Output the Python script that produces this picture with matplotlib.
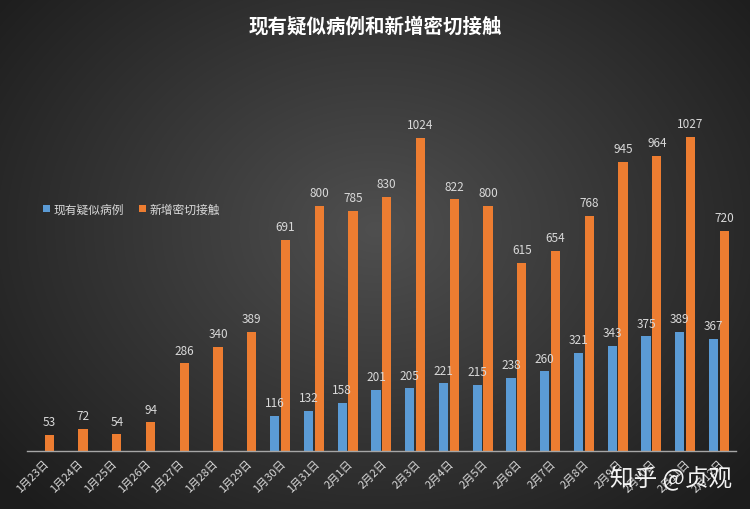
import numpy as np
import matplotlib
matplotlib.use('Agg')
import matplotlib.pyplot as plt

plt.rcParams['font.family'] = ['Noto Sans CJK SC', 'DejaVu Sans']

# ------------------------- 数据 -------------------------
dates = ['1月23日', '1月24日', '1月25日', '1月26日', '1月27日', '1月28日', '1月29日',
         '1月30日', '1月31日', '2月1日', '2月2日', '2月3日', '2月4日', '2月5日',
         '2月6日', '2月7日', '2月8日', '2月9日', '2月10日', '2月11日', '2月12日']
suspected = [None, None, None, None, None, None, None,
             116, 132, 158, 201, 205, 221, 215, 238, 260, 321, 343, 375, 389, 367]
contacts = [53, 72, 54, 94, 286, 340, 389, 691, 800, 785, 830, 1024,
            822, 800, 615, 654, 768, 945, 964, 1027, 720]

blue = '#5B9BD5'
orange = '#ED7D31'
txt = '#D9D9D9'

fig = plt.figure(figsize=(7.5, 5.1), dpi=100)

# 背景径向渐变
bg = fig.add_axes([0, 0, 1, 1], zorder=0)
yy, xx = np.mgrid[0:510, 0:750]
r = np.sqrt(((xx - 375) / 420.0) ** 2 + ((yy - 230) / 330.0) ** 2)
shade = np.clip(0.31 - 0.17 * r, 0.11, 0.31)
bg.imshow(np.dstack([shade, shade, shade]), aspect='auto', extent=[0, 1, 0, 1])
bg.axis('off')

ax = fig.add_axes([0.036, 0.1137, 0.945, 0.72], zorder=1)
ax.patch.set_alpha(0)

x = np.arange(len(dates))
w = 0.27
s_vals = [v if v is not None else 0 for v in suspected]
b1 = ax.bar(x - 0.16, s_vals, w, color=blue, label='现有疑似病例')
b2 = ax.bar(x + 0.16, contacts, w, color=orange, label='新增密切接触')

for i, v in enumerate(suspected):
    if v is not None:
        ax.text(x[i] - 0.16, v + 22, str(v), ha='center', va='bottom', color=txt, fontsize=8.5)
for i, v in enumerate(contacts):
    ax.text(x[i] + 0.16, v + 22, str(v), ha='center', va='bottom', color=txt, fontsize=8.5)

ax.set_xlim(-0.5, len(dates) - 0.5)
ax.set_ylim(0, 1200)
ax.set_yticks([])
ax.set_xticks(x)
ax.set_xticklabels(dates, rotation=45, ha='right', rotation_mode='anchor', color=txt, fontsize=8)
ax.tick_params(axis='x', length=0, pad=5)
for sp in ['top', 'right', 'left']:
    ax.spines[sp].set_visible(False)
ax.spines['bottom'].set_color('#A6A6A6')
ax.spines['bottom'].set_linewidth(1)

leg = ax.legend(loc='upper left', bbox_to_anchor=(0.008, 0.705), ncol=2, frameon=False,
                fontsize=8.5, handlelength=0.6, handleheight=0.6, handletextpad=0.3,
                columnspacing=1.2, labelcolor=txt)

fig.text(0.5, 0.948, '现有疑似病例和新增密切接触', ha='center', va='center',
         color='white', fontsize=14, fontweight='bold')

fig.text(0.813, 0.063, '知乎 @贞观', ha='left', va='center', color='white',
         fontsize=17, alpha=0.95)

fig.savefig('out.png', dpi=100)
